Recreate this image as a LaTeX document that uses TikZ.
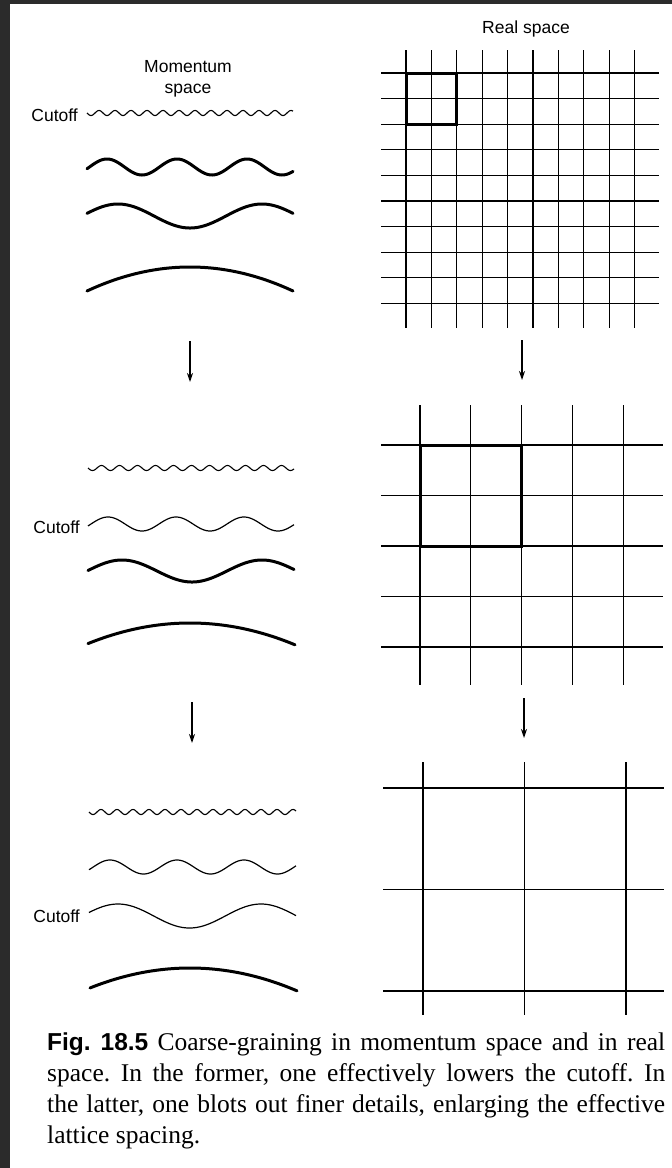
\documentclass[tikz,border=0pt]{standalone}
\usepackage{fontspec}
\newfontfamily\capfont{Liberation Serif}
\newfontfamily\lblfont{Liberation Sans}
\usetikzlibrary{arrows.meta}
\definecolor{framecol}{HTML}{2B2B2B}
\begin{document}
\frenchspacing
\begin{tikzpicture}[x=1pt,y=-1pt,
  lbl/.style={font=\lblfont\fontsize{17.5}{21}\selectfont, inner sep=0pt},
  gridline/.style={line width=1.1pt},
  cell/.style={line width=3pt, line join=miter},
  fine/.style={line width=1.1pt},
  thinwave/.style={line width=1.2pt},
  thickwave/.style={line width=3pt, line cap=round},
  arr/.style={line width=1.4pt, -{Stealth[length=9pt,width=6pt]}}]
\useasboundingbox (0,0) rectangle (672,1168);
\fill[framecol] (0,0) rectangle (672,1168);
\fill[white] (10,4) rectangle (672,1168);

% ---------- labels ----------
\node[lbl, align=center] (mom) at (188,79) {Momentum\\space};
\node[lbl] (real) at (526,29) {Real space};
\node[lbl, anchor=east] (cut1) at (78,115) {Cutoff};
\node[lbl, anchor=east] (cut2) at (80,527) {Cutoff};
\node[lbl, anchor=east] (cut3) at (80,916) {Cutoff};

% ---------- momentum space, panel 1 ----------
\draw[fine] plot[domain=87:293, samples=400] (\x, {113+2.5*sin(22.5*(\x-87))});
\draw[thickwave] plot[domain=87:293, samples=200] (\x, {167-8*cos(5.142857*(\x-107))});
\draw[thickwave] plot[domain=87:293, samples=200] (\x, {216-12*cos(2.5*(\x-118))});
\draw[thickwave] plot[domain=87:293, samples=100] (\x, {267+24*((\x-190)/103)^2});

% ---------- momentum space, panel 2 ----------
\draw[fine] plot[domain=88:294, samples=400] (\x, {468+2.5*sin(20*(\x-88))});
\draw[thinwave] plot[domain=88:294, samples=200] (\x, {524-7*cos(5.294118*(\x-108))});
\draw[thickwave] plot[domain=88:294, samples=200] (\x, {571-11*cos(2.571429*(\x-122))});
\draw[thickwave] plot[domain=88:295, samples=100] (\x, {623+21*((\x-190)/103)^2});

% ---------- momentum space, panel 3 ----------
\draw[fine] plot[domain=89:296, samples=400] (\x, {812+2.5*sin(22.5*(\x-89))});
\draw[thinwave] plot[domain=89:296, samples=200] (\x, {867-7*cos(5.373134*(\x-110))});
\draw[thinwave] plot[domain=89:296, samples=200] (\x, {916-12*cos(2.517483*(\x-118))});
\draw[thickwave] plot[domain=90:297, samples=100] (\x, {968+22*((\x-190)/105)^2});

% ---------- real space grids ----------
\foreach \i in {0,...,9} {
  \draw[gridline] ({406+25.4*\i},50) -- ({406+25.4*\i},328);
  \draw[gridline] (381,{73+25.6*\i}) -- (659,{73+25.6*\i});
}
\draw[cell] (406,73) rectangle (456.8,124.2);

\foreach \i in {0,...,4} {
  \draw[gridline] ({420+50.8*\i},405) -- ({420+50.8*\i},685);
  \draw[gridline] (381,{445+50.5*\i}) -- (663,{445+50.5*\i});
}
\draw[cell] (420,445) rectangle (521.6,546);

\foreach \i in {0,1,2} {
  \draw[gridline] ({423+101.5*\i},762) -- ({423+101.5*\i},1015);
  \draw[gridline] (383,{788+101.5*\i}) -- (664,{788+101.5*\i});
}

% ---------- arrows ----------
\coordinate (la1s) at (190,341); \coordinate (la1e) at (190,382);
\coordinate (ra1s) at (522,340); \coordinate (ra1e) at (522,380);
\coordinate (la2s) at (192,702); \coordinate (la2e) at (192,743);
\coordinate (ra2s) at (524,698); \coordinate (ra2e) at (524,738);
\draw[arr] (la1s) -- (la1e);
\draw[arr] (ra1s) -- (ra1e);
\draw[arr] (la2s) -- (la2e);
\draw[arr] (ra2s) -- (ra2e);

% ---------- caption ----------
\node[anchor=north west, inner sep=0pt, text width=618pt, align=justify,
      font=\capfont\fontsize{25.5}{30.8}\selectfont] (cap) at (47,1033)
  {{\lblfont\fontsize{24.5}{30.8}\selectfont\bfseries Fig. 18.5} Coarse-graining in momentum space and in real\linebreak
   space. In the former, one effectively lowers the cutoff. In\linebreak
   the latter, one blots out finer details, enlarging the effective\linebreak
   lattice spacing.};
\end{tikzpicture}
\end{document}
